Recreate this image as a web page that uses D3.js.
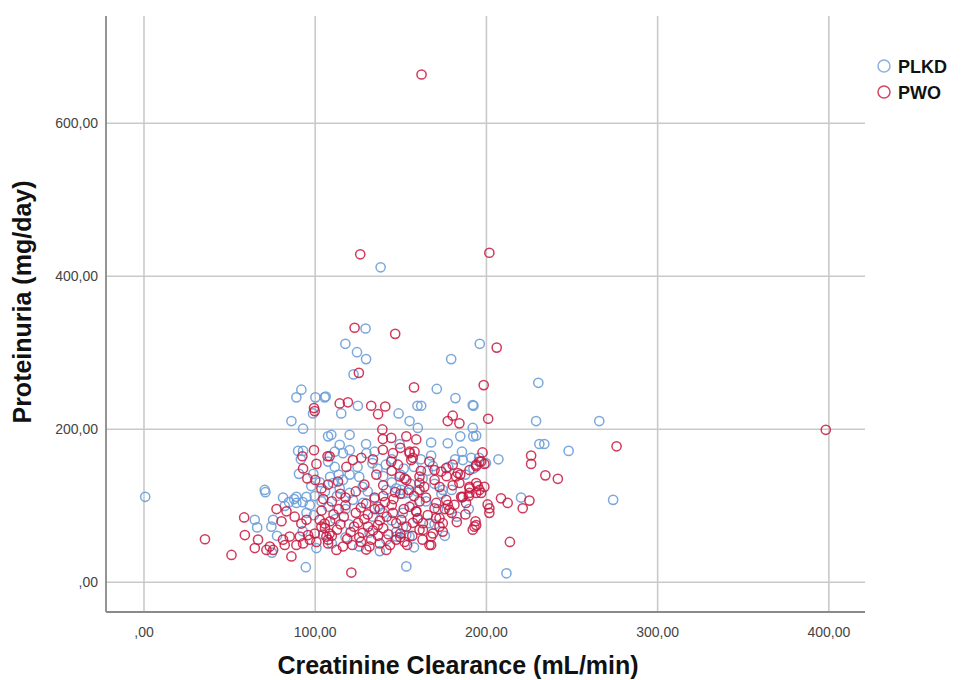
<!DOCTYPE html>
<meta charset="utf-8">
<script src="https://d3js.org/d3.v7.min.js"></script>
<style>
  body { margin: 0; background: #fff; }
  text { font-family: Arial, "Liberation Sans", sans-serif; }
</style>
<div id="my_dataviz"></div>
<script>
// tick values
var xTicks = [0, 100, 200, 300, 400];
var yTicks = [0, 200, 400, 600];

// series names
var seriesNames = ["PLKD", "PWO"];

// PLKD points: [creatinine clearance, proteinuria]
var plkd = [
  [1,111],[138.5,411],[129.7,331],[117.9,311],[124.7,300],[130,291],[179.7,291],[196.4,311],
  [122.7,271],[92.2,251],[171.3,252],[230.6,260],[192.7,230],[229.3,210],[266.2,210],[192.3,201],
  [194.3,191],[231.2,180],[234.1,180],[248.3,171],[207.3,160],[192.7,148],[220.5,110],[274.3,107],
  [212,11],[153.5,20],[94.8,19],
  [89.3,241],[100.4,241],[105.8,241],[99,220],[86.4,210],[93.2,200],[107.8,190],[90.3,171],
  [93.2,171],[91.9,160],[90.8,141],[99.2,141],[70.8,120],
  [71.2,117],[81.5,110],[89.3,111],[95.2,111],[82.5,99],[89.3,103],[97.1,100],[65,81],[66.4,71],
  [75.7,81],[74.7,72],[95.2,90],[99.5,87],[101,44],[75,38],
  [106.4,242],[115.5,220],[125.2,230],[149,220],[160,230],[162.2,230],[182.2,240],[192.3,231],
  [155.4,210],[160.2,201],[149.6,180],[168,182],[177.7,181],[185,190],[192.6,190],[109.7,192],
  [114.6,179],[120.4,192],[111.7,170],[116.5,168],[120.4,172],[107.8,157],[111.7,150],[130.2,168],
  [135,170],[133.7,155],[136.7,148],[141.5,153],[109,137],[116.5,133],[120.4,140],[126,137],
  [141.8,55],[147.6,59],[153.5,61],[147.6,65],[151.5,72],[122.3,107],[128.2,103],[120.4,116],
  [114.6,122],[110.7,129],[141.8,120],[147.6,122],[151.5,115],[139.9,90],[151.5,90],
  [104,105],[108,98],[113,112],[118,95],[131,118],[135,108],[137,98],[145,130],[150,140],[156,128],
  [160,118],[163,135],[166,145],[170,128],[174,115],[178,150],[182,160],[186,170],[188,140],
  [158,150],[162,160],[168,165],[145,160],[125,150],[130,180],[103,130],[112,82],[120,75],[134,85],
  [157,100],[165,105],[172,95],[180,120],[186,110],[196,162],[200,155],[105,62],[118,58],[132,64],
  [145,80],[160,82],[183,85],[190,95],[85,104],[78,60],[93,66],[110,50],[126,46],[138,40],[158,45],
  [176,60],[170,75],[186.5,159],[191.4,162],[169,151],[150.5,120],[154.4,116],[174.8,120],[167,76.5],
  [155.4,59],[88,108],[93,104],[100,112],[106,118],[98,125],[114,140],[128,124],[140,138],[152,148]
];

// PWO points: [creatinine clearance, proteinuria]
var pwo = [
  [162.4,663],[398.5,198.6],[126.6,428],[202,430],[123.3,332],[147,324],[206.3,306],[125.8,273],
  [158,254],[198.7,257],[201.3,213],[276.3,177],[198,169],[226.4,165],[226.4,154],[196.2,157],
  [199.1,154],[234.7,139],[242,134.5],[190.4,124],[195.2,125],[199.1,124],[197.2,116],[190,112],
  [208.8,109],[212.7,103],[225.4,106],[221.5,96],[201,101],[202,96],[202,90],[193.9,79],[193.3,72],
  [214,52],
  [99.6,227],[100,223],[99.6,172],[92.8,164],[101,154],[107.5,164],[93.2,148],[95.7,135],[103.9,122],
  [100.3,133],[77.7,95],[83.5,92],[58.8,84],[80.6,79],[88.3,85],[92.2,76],[95.2,81],[102.9,81],
  [105.8,76],[103.9,72],[59.2,61],[66.9,55],[65,44],[73.8,46],[75.7,41.5],[71.8,41.5],[81.5,55],
  [85.4,59],[82.5,48],[86.4,33],[89.3,48],[93.2,50],[91.3,59],[96.1,61],[100,63],[97.1,55],[101,52],
  [106.8,59],[108.7,63],[107.8,55],[35.9,55.5],[51.4,35],
  [114.6,233],[119.4,234.5],[133,230],[137,219],[141.2,229],[177.7,210],[180.6,217],[184.5,207],
  [139.5,199],[144.7,188],[139.8,186.5],[153.5,190],[159.3,186],[108.7,164],[118.5,150],[122.3,159],
  [127.2,162],[139.8,172.5],[145.7,168],[144.7,157],[148.6,153],[156.4,159],[158.3,170],[155.4,170],
  [167,157],[170,146],[173.9,144],[176.8,148.5],[180.6,153],[182.6,137.5],[190.4,146],[194.3,153],
  [149.6,137.5],[161.2,137.5],[153.5,133],[107.8,127],[113.6,131],[129,127],
  [121.4,12],[130.1,42],[141.8,41.5],[167,48],[174.8,65.5],[169,63],[194.3,74],[192.3,68],[161.2,68],
  [157.3,77],[163.2,76.5],[152.5,52],[147.6,55],[125.3,77],[131.1,72],[136.9,74],[112.7,41.5],
  [116.5,46],[107.8,50],[172.9,124],[180.6,126],[184.5,129],[190.4,122],[194.3,116],[176.8,107],
  [181.6,100.5],[186.5,111],[188.4,103],[170,96],[166,87],[170.9,83],[174.8,76.5],[159.3,92],
  [161.2,105],[155.4,98],[147.6,76.5],[150.6,81],[145.7,90],[153.5,72],
  [110,60],[113,68],[115,75],[117,85],[119,56],[121,65],[123,72],[124,90],[126,58],[128,64],[129,82],
  [131,88],[133,55],[134,67],[135,95],[137,60],[138,80],[140,70],[142,85],[143,62],[145,100],[118,100],
  [122,48],[127,52],[132,46],[138,50],[111,88],[114,95],[106,70],[109,79],[104,93],[127,97],[141,104],
  [135,110],[146,108],[150,115],[130,102],[118,110],[124,118],[140,126],[155,120],[165,110],[158,112],
  [164,124],[170,133],[177,138],[185,140],[162,145],[145,145],[136,140],[134,160],[150,175],[188,88],
  [180,90],[183,78],[176,95],[150,63],[157,60],[163,55],[144,48],[138,95],[152,95],[147,117],[110,105],
  [115,115],[140,112],[105,108],
  [155.4,168],[157.3,162],[197.2,157],[194.3,151],[183.6,142],[152.5,135],[161.2,129],[161.2,120],
  [171,103],[185.5,111],[190.4,116],[194.3,129],[196.2,120],[177.7,100.5],[178.7,94],[172.9,83],
  [172.9,72],[168,59],[168,48],[163.2,67.7],[150,58],[154,48],[159.3,91.7],[160.2,83]
];

var W = 969, H = 680;
var plot = {left: 106, right: 865, top: 16, bottom: 612};

var svg = d3.select("#my_dataviz")
  .append("svg")
    .attr("width", W)
    .attr("height", H);

var x = d3.scaleLinear()
  .domain([-21.9, 421.4])
  .range([plot.left, plot.right]);

var y = d3.scaleLinear()
  .domain([-39.6, 739.5])
  .range([plot.bottom, plot.top]);

// 600 -> "600,00", 0 -> ",00"
var fmt = function(d) {
  var s = d3.format(".2f")(d).replace(".", ",");
  return d === 0 ? s.slice(1) : s;
};

// X axis with vertical gridlines
var gx = svg.append("g")
  .attr("transform", "translate(0," + plot.bottom + ")")
  .call(d3.axisBottom(x)
    .tickValues(xTicks)
    .tickSize(-(plot.bottom - plot.top))
    .tickPadding(15)
    .tickFormat(fmt));
gx.select(".domain").remove();
gx.selectAll(".tick line").attr("stroke", "#c9c9c9").attr("stroke-width", 1.6);
gx.selectAll(".tick text")
  .attr("fill", "#444")
  .style("font-size", "14px");

// Y axis with horizontal gridlines
var gy = svg.append("g")
  .attr("transform", "translate(" + plot.left + ",0)")
  .call(d3.axisLeft(y)
    .tickValues(yTicks)
    .tickSize(-(plot.right - plot.left))
    .tickPadding(8)
    .tickFormat(fmt));
gy.select(".domain").remove();
gy.selectAll(".tick line").attr("stroke", "#c9c9c9").attr("stroke-width", 1.6);
gy.selectAll(".tick text")
  .attr("fill", "#444")
  .style("font-size", "14px");

// axis lines (left and bottom only)
svg.append("line")
  .attr("x1", plot.left).attr("x2", plot.left)
  .attr("y1", plot.top).attr("y2", plot.bottom)
  .attr("stroke", "#8a8a8a").attr("stroke-width", 1.8);
svg.append("line")
  .attr("x1", plot.left).attr("x2", plot.right)
  .attr("y1", plot.bottom).attr("y2", plot.bottom)
  .attr("stroke", "#8a8a8a").attr("stroke-width", 1.8);

var colors = {PLKD: "#6c9fd8", PWO: "#c8173f"};

// points
svg.append("g").selectAll("circle.plkd")
  .data(plkd)
  .enter()
  .append("circle")
    .attr("class", "plkd")
    .attr("cx", function(d) { return x(d[0]); })
    .attr("cy", function(d) { return y(d[1]); })
    .attr("r", 4.6)
    .attr("fill", "none")
    .attr("stroke", colors.PLKD)
    .attr("stroke-width", 1.5)
    .attr("stroke-opacity", 0.9);

svg.append("g").selectAll("circle.pwo")
  .data(pwo)
  .enter()
  .append("circle")
    .attr("class", "pwo")
    .attr("cx", function(d) { return x(d[0]); })
    .attr("cy", function(d) { return y(d[1]); })
    .attr("r", 4.6)
    .attr("fill", "none")
    .attr("stroke", colors.PWO)
    .attr("stroke-width", 1.5)
    .attr("stroke-opacity", 0.85);

// axis titles
svg.append("text")
  .attr("x", 458)
  .attr("y", 674)
  .attr("text-anchor", "middle")
  .style("font-size", "25px")
  .style("font-weight", "bold")
  .attr("fill", "#111")
  .text("Creatinine Clearance (mL/min)");

svg.append("text")
  .attr("transform", "translate(31,302)rotate(-90)")
  .attr("text-anchor", "middle")
  .style("font-size", "25px")
  .style("font-weight", "bold")
  .attr("fill", "#111")
  .text("Proteinuria (mg/day)");

// legend
var legend = svg.append("g").selectAll("g")
  .data(seriesNames)
  .enter()
  .append("g")
    .attr("transform", function(d, i) { return "translate(884," + (66 + i * 26) + ")"; });
legend.append("circle")
  .attr("r", 6)
  .attr("fill", "none")
  .attr("stroke", function(d) { return colors[d]; })
  .attr("stroke-width", 1.5)
  .attr("stroke-opacity", 0.8);
legend.append("text")
  .attr("x", 14)
  .attr("y", 6.5)
  .style("font-size", "18px")
  .style("font-weight", "bold")
  .attr("fill", "#111")
  .text(function(d) { return d; });
</script>
